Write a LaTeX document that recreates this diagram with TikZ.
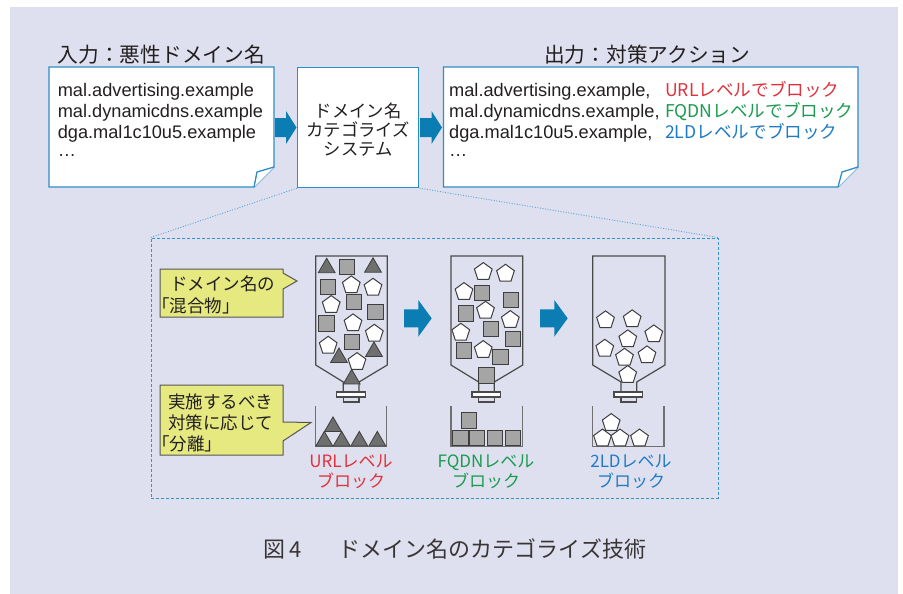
\documentclass[tikz,border=0pt]{standalone}
\usepackage{fontspec}
\setmainfont{Liberation Sans}
\newfontfamily\jpfont{Noto Sans CJK JP}
\newfontfamily\jpprop[RawFeature=+palt]{Noto Sans CJK JP}
\definecolor{panel}{HTML}{DFE0EF}
\definecolor{docblue}{HTML}{2E8DC6}
\definecolor{arrowblue}{HTML}{0B7DB3}
\definecolor{framedash}{HTML}{3592C8}
\definecolor{linkdot}{HTML}{5AA5D5}
\definecolor{ink}{HTML}{231F20}
\definecolor{calloutfill}{HTML}{E6E880}
\definecolor{calloutedge}{HTML}{555555}
\definecolor{urlred}{HTML}{E0323C}
\definecolor{fqdngreen}{HTML}{1A9B4F}
\definecolor{ldblue}{HTML}{1F7BC4}
\definecolor{bottleedge}{HTML}{4A4A4A}
\definecolor{binedge}{HTML}{707070}
\definecolor{trifill}{HTML}{6F6F6F}
\definecolor{sqfill}{HTML}{A5A5A5}
\definecolor{shapeedge}{HTML}{3E3E3E}

% small objects inside the bottles and bins
\newcommand\pentagonat[2]{\draw[pentobj] (#1,#2+0.9) +(90:9.3pt) -- +(162:9.3pt) -- +(234:9.3pt) -- +(306:9.3pt) -- +(18:9.3pt) -- cycle;}
\newcommand\squareat[2]{\draw[sqobj] (#1-7.7,#2-7.7) rectangle (#1+7.7,#2+7.7);}
\newcommand\triangleat[2]{\draw[triobj] (#1,#2-7.3) -- (#1-8.4,#2+7.2) -- (#1+8.4,#2+7.2) -- cycle;}
% bottle: body left/right, neck left/right, plate left/right
\newcommand\bottleat[6]{%
  \draw[bottleline] (#3,392) -- (#3,382) -- (#1,365) -- (#1,256) -- (#2,256) -- (#2,365) -- (#4,382) -- (#4,392);
  \draw[bottleline] (#3,397) rectangle (#4,402);
  \draw[bottleline, fill=white] (#5,392) rectangle (#6,397);}
\newcommand\binat[2]{\draw[binline] (#1,406) -- (#1,446.7) -- (#2,446.7) -- (#2,406);}

\begin{document}
\begin{tikzpicture}[x=1pt,y=-1pt,
  docedge/.style={draw=docblue, line width=1.3pt, fill=white},
  sysbox/.style={draw=docblue, line width=1.3pt, fill=white, inner sep=0pt},
  zoomframe/.style={draw=framedash, line width=0.9pt, dash pattern=on 3pt off 2pt, inner sep=0pt},
  linkline/.style={draw=linkdot, line width=0.9pt, dash pattern=on 1pt off 1.6pt},
  title/.style={font=\jpfont\fontsize{20.7}{24}\selectfont, text=ink, inner sep=0pt, anchor=base west},
  dom/.style={font=\fontsize{18.2}{22}\selectfont, text=ink, inner sep=0pt, anchor=base west},
  action/.style={font=\jpfont\fontsize{17.6}{21}\selectfont, inner sep=0pt, anchor=base west},
  systext/.style={font=\jpfont\fontsize{17.3}{19}\selectfont, text=ink, inner sep=0pt, align=center},
  callout/.style={draw=calloutedge, line width=1pt, fill=calloutfill, line join=miter},
  calltext/.style={font=\jpfont\fontsize{17.5}{21}\selectfont, text=ink, inner sep=0pt, anchor=base west},
  binlabel/.style={font=\jpfont\fontsize{17}{20}\selectfont, inner sep=0pt, anchor=base},
  captiontext/.style={font=\jpfont\fontsize{22}{26}\selectfont, text=ink!90, inner sep=0pt, anchor=base},
  bottleline/.style={draw=bottleedge, line width=1.2pt},
  binline/.style={draw=binedge, line width=1.5pt},
  pentobj/.style={draw=shapeedge, line width=1pt, fill=white, line join=miter},
  sqobj/.style={draw=shapeedge, line width=1pt, fill=sqfill},
  triobj/.style={draw=shapeedge, line width=0.8pt, fill=trifill, line join=miter},
]
\useasboundingbox (0,0) rectangle (903,594);
\fill[white] (0,0) rectangle (903,594);
\fill[panel] (10,7) rectangle (898,594);

% ---- headings ----
\node[title] (intitle) at (57.6,62.9) {入力：悪性ドメイン名};
\node[title] (outtitle) at (544,62.9) {出力：対策アクション};

% ---- input document ----
\draw[docedge] (49,67) -- (274,67) -- (274,167) -- (254,187) -- (49,187) -- cycle;
\draw[docedge, line join=round] (254,187) -- (257,172) -- (274,167);
\node[dom] (in1) at (57.6,96.5) {mal.advertising.example};
\node[dom] (in2) at (57.6,117.8) {mal.dynamicdns.example};
\node[dom] (in3) at (57.6,139) {dga.mal1c10u5.example};
\node[dom] (in4) at (57.6,156) {…};

% ---- categorizer ----
\node[sysbox, minimum width=121pt, minimum height=120pt] (sys) at (358.2,127.5) {};
\node[systext] (syslabel) at (358.2,130) {ドメイン名\\カテゴライズ\\システム};

% ---- output document ----
\draw[docedge] (443.5,67) -- (858,67) -- (858,167) -- (838,187) -- (443.5,187) -- cycle;
\draw[docedge, line join=round] (838,187) -- (842,172) -- (858,167);
\node[dom] (out1) at (449,96.5) {mal.advertising.example,};
\node[dom] (out2) at (449,117.8) {mal.dynamicdns.example,};
\node[dom] (out3) at (449,139) {dga.mal1c10u5.example,};
\node[dom] (out4) at (449,156) {…};
\node[action, text=urlred] (act1) at (665,96.5) {URLレベルでブロック};
\node[action, text=fqdngreen] (act2) at (665,117.5) {FQDNレベルでブロック};
\node[action, text=ldblue] (act3) at (665,138.5) {2LDレベルでブロック};

% ---- flow arrows ----
\fill[arrowblue] (275,118) -- (286,118) -- (286,111) -- (296.5,127.5) -- (286,144) -- (286,137) -- (275,137) -- cycle;
\fill[arrowblue] (420,118) -- (431.5,118) -- (431.5,111) -- (442,127.5) -- (431.5,144) -- (431.5,137) -- (420,137) -- cycle;

% ---- detail frame ----
\node[zoomframe, minimum width=567pt, minimum height=260pt] (detail) at (434.5,368) {};
\draw[linkline] (sys.south west) -- (detail.north west);
\draw[linkline] (sys.south east) -- (detail.north east);

% ---- callouts ----
\draw[callout] (160,269) -- (283,269) -- (283,273) -- (297,281) -- (283,289) -- (283,317) -- (160,317) -- cycle;
\node[calltext] (mixa) at (170,290.7) {ドメイン名の};
\node[calltext] (mixb) at (161,312.5) {{\jpprop「}混合物{\jpprop」}};
\draw[callout] (160,385) -- (283,385) -- (283,422) -- (311,422.5) -- (283,441) -- (283,455) -- (160,455) -- cycle;
\node[calltext] (sepa) at (168,408.5) {実施するべき};
\node[calltext] (sepb) at (168,429.7) {対策に応じて};
\node[calltext] (sepc) at (161,450.5) {{\jpprop「}分離{\jpprop」}};

% ---- bottles ----
\bottleat{315.7}{387.3}{343.3}{359}{336.7}{365.7}
\bottleat{451}{522.7}{478.7}{494.3}{472}{500.7}
\bottleat{592.7}{665}{621}{636.7}{614}{642.7}

% bottle 1: mixed contents
\triangleat{326.7}{265.5}
\triangleat{373}{265}
\triangleat{339}{355.3}
\triangleat{374}{349.2}
\squareat{347.2}{266.7}
\squareat{327.8}{286.7}
\squareat{353.7}{302.2}
\squareat{375.3}{312.2}
\squareat{326.5}{323.5}
\squareat{352.2}{341.8}
\pentagonat{351.3}{284.3}
\pentagonat{373}{286.7}
\pentagonat{331.2}{304}
\pentagonat{353}{322.3}
\pentagonat{374.3}{332.7}
\pentagonat{328.2}{344.7}
\pentagonat{357}{361}
\triangleat{351.7}{376.7}

% bottle 2: squares and pentagons
\pentagonat{483.3}{271}
\pentagonat{505.5}{272.7}
\pentagonat{464}{291}
\pentagonat{485.5}{309.7}
\pentagonat{510.3}{319}
\pentagonat{460.8}{331.7}
\pentagonat{483.2}{349}
\squareat{481.8}{292.8}
\squareat{511}{300}
\squareat{466}{313.3}
\squareat{491}{328.8}
\squareat{513.2}{338.8}
\squareat{463.8}{350.5}
\squareat{500.5}{356.8}
\squareat{486.5}{375.3}

% bottle 3: pentagons only
\pentagonat{605.5}{319.3}
\pentagonat{632.2}{318.3}
\pentagonat{653.8}{333.3}
\pentagonat{627.8}{338.3}
\pentagonat{604.8}{347.7}
\pentagonat{624.5}{356.7}
\pentagonat{647}{354.3}
\pentagonat{627.7}{374}

% ---- arrows between bottles ----
\fill[arrowblue] (404,309.3) -- (418.3,309.3) -- (418.3,300) -- (431.7,318.3) -- (418.3,336.7) -- (418.3,327.3) -- (404,327.3) -- cycle;
\fill[arrowblue] (540,309.3) -- (554.3,309.3) -- (554.3,300) -- (567.7,318.3) -- (554.3,336.7) -- (554.3,327.3) -- (540,327.3) -- cycle;

% ---- bins ----
\binat{315.7}{386.7}
\binat{451}{522.3}
\binat{592.7}{664}
\triangleat{324.3}{438.7}
\triangleat{341.7}{438.7}
\triangleat{359.3}{438.7}
\triangleat{377.3}{438.7}
\triangleat{333}{424.2}
\squareat{460.5}{437.8}
\squareat{476.8}{437.8}
\squareat{494.7}{437.8}
\squareat{512.8}{437.8}
\squareat{469.2}{420.5}
\pentagonat{602.5}{437.5}
\pentagonat{620}{437.5}
\pentagonat{639.5}{437.5}
\pentagonat{611.2}{422}

% ---- bin labels ----
\node[binlabel, text=urlred] (urla) at (351,467) {URLレベル};
\node[binlabel, text=urlred] (urlb) at (351,487.5) {ブロック};
\node[binlabel, text=fqdngreen] (fqdna) at (486,467) {FQDNレベル};
\node[binlabel, text=fqdngreen] (fqdnb) at (486,487.5) {ブロック};
\node[binlabel, text=ldblue] (lda) at (631,467) {2LDレベル};
\node[binlabel, text=ldblue] (ldb) at (631,487.5) {ブロック};

% ---- caption ----
\node[captiontext] (caption) at (455,557.4) {図\,4\hspace{1.7em}ドメイン名のカテゴライズ技術};
\end{tikzpicture}
\end{document}
